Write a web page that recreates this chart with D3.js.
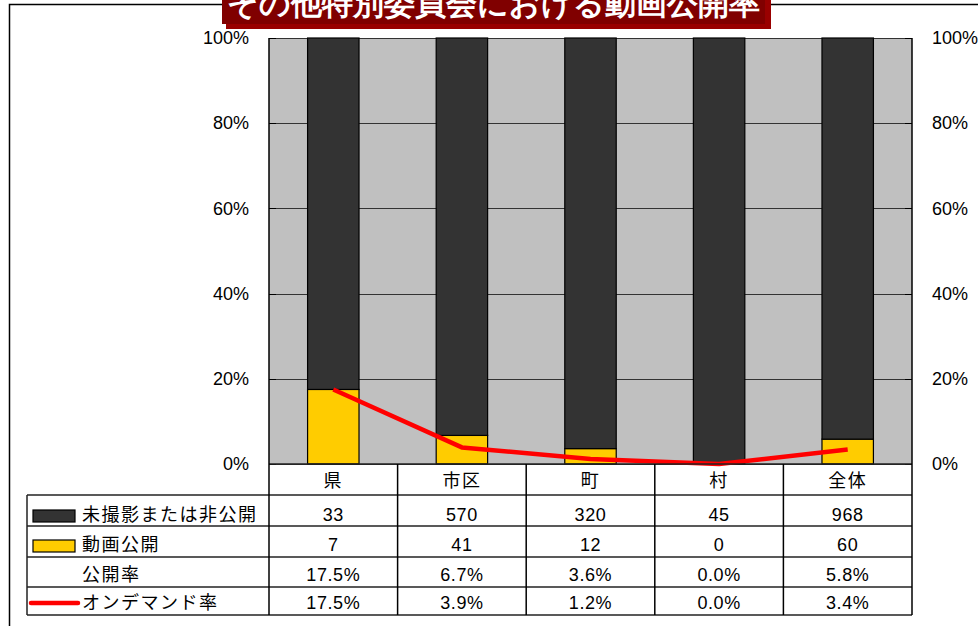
<!DOCTYPE html>
<html lang="ja">
<head>
<meta charset="utf-8">
<script src="https://cdn.jsdelivr.net/npm/d3@7"></script>
<style>
  body { margin: 0; background: #fff; }
  text { font-family: "Liberation Sans", Arial, sans-serif; fill: #000; }
  .jp { font-family: "Noto Sans CJK JP", sans-serif; letter-spacing: 1.5px; }
  .axis path, .axis line { shape-rendering: crispEdges; }
</style>
</head>
<body>
<div id="chart"></div>
<script>
// DATA
//=====================
var title = "その他特別委員会における動画公開率";
var categories = ["県", "市区", "町", "村", "全体"];
var notPublished = [33, 570, 320, 45, 968];   // 未撮影または非公開
var published = [7, 41, 12, 0, 60];           // 動画公開
var onDemandRate = [17.5, 3.9, 1.2, 0.0, 3.4]; // オンデマンド率 (%)
var rowLabels = ["未撮影または非公開", "動画公開", "公開率", "オンデマンド率"];
var yTicks = [0, 0.2, 0.4, 0.6, 0.8, 1];

var svgWidth = 978;
var svgHeight = 626;

var plot = { left: 269, right: 912, top: 38, bottom: 464 };
var rowEdges = [464, 495, 526, 557, 587, 615];
var rowBaselines = [487, 521, 551, 581, 609];
var tableLeft = 27;

// build rows for the stack
var rows = categories.map(function(c, i) {
    var total = notPublished[i] + published[i];
    return {
        cat: c,
        hidden: notPublished[i],
        shown: published[i],
        shownShare: total ? published[i] / total : 0,
        onDemand: onDemandRate[i] / 100
    };
});

/// APPEND SVG
//=====================
var svg = d3.select("#chart")
    .append("svg")
    .attr("width", svgWidth)
    .attr("height", svgHeight);

/// SCALES
//=====================
var xBar = d3.scaleBand()
    .domain(categories)
    .range([plot.left, plot.right])
    .paddingInner(0.6)
    .paddingOuter(0.3);

var xCol = d3.scaleBand()
    .domain(categories)
    .range([plot.left, plot.right]);

var yScale = d3.scaleLinear()
    .domain([0, 1])
    .range([plot.bottom, plot.top]);

// outer frame
svg.append("path")
    .attr("d", "M9.5," + (svgHeight + 5) + "V4.5H" + (svgWidth + 5))
    .attr("fill", "none")
    .attr("stroke", "#000")
    .attr("stroke-width", 1.5);

// plot background
svg.append("rect")
    .attr("x", plot.left)
    .attr("y", plot.top)
    .attr("width", plot.right - plot.left)
    .attr("height", plot.bottom - plot.top)
    .attr("fill", "#c0c0c0");

// gridlines
var grid = svg.append("g")
    .attr("class", "axis")
    .attr("transform", "translate(" + plot.left + ",0)")
    .call(d3.axisLeft(yScale).tickValues(yTicks).tickSize(-(plot.right - plot.left)).tickFormat(""));
grid.select(".domain").remove();
grid.selectAll("line").attr("stroke", "#333");

/// STACKED BARS
//=====================
var stack = d3.stack()
    .keys(["shownShare", "hiddenShare"])
    .value(function(d, key) { return key === "shownShare" ? d.shownShare : 1 - d.shownShare; });

var series = stack(rows);
var colors = { shownShare: "#ffcc00", hiddenShare: "#333333" };

svg.selectAll("g.series")
    .data(series)
    .enter()
    .append("g")
    .attr("class", "series")
    .attr("fill", function(s) { return colors[s.key]; })
    .selectAll("rect")
    .data(function(s) { return s.filter(function(p) { return p[1] - p[0] > 0; }); })
    .enter()
    .append("rect")
    .attr("x", function(p) { return xBar(p.data.cat); })
    .attr("y", function(p) { return yScale(p[1]); })
    .attr("width", xBar.bandwidth())
    .attr("height", function(p) { return yScale(p[0]) - yScale(p[1]); })
    .attr("stroke", "#000")
    .attr("stroke-width", 1.2);

/// AXES
//=====================
var yLeft = svg.append("g")
    .attr("transform", "translate(" + plot.left + ",0)")
    .call(d3.axisLeft(yScale).tickValues(yTicks).tickSize(0).tickPadding(20).tickFormat(d3.format(".0%")));
yLeft.select(".domain").remove();
yLeft.selectAll("text").attr("font-size", 18).attr("font-family", "Liberation Sans, Arial, sans-serif");

var yRight = svg.append("g")
    .attr("transform", "translate(" + plot.right + ",0)")
    .call(d3.axisRight(yScale).tickValues(yTicks).tickSize(0).tickPadding(20).tickFormat(d3.format(".0%")));
yRight.select(".domain").remove();
yRight.selectAll("text").attr("font-size", 18).attr("font-family", "Liberation Sans, Arial, sans-serif");

// small inside ticks
var tickLeft = svg.append("g")
    .attr("class", "axis")
    .attr("transform", "translate(" + plot.left + ",0)")
    .call(d3.axisRight(yScale).tickValues(yTicks).tickSize(7).tickFormat(""));
tickLeft.select(".domain").remove();
var tickRight = svg.append("g")
    .attr("class", "axis")
    .attr("transform", "translate(" + plot.right + ",0)")
    .call(d3.axisLeft(yScale).tickValues(yTicks).tickSize(7).tickFormat(""));
tickRight.select(".domain").remove();

/// ON-DEMAND LINE
//=====================
var line = d3.line()
    .x(function(d) { return xBar(d.cat) + xBar.bandwidth() / 2; })
    .y(function(d) { return yScale(d.onDemand); });

svg.append("path")
    .datum(rows)
    .attr("d", line)
    .attr("fill", "none")
    .attr("stroke", "#ff0000")
    .attr("stroke-width", 4.5)
    .attr("stroke-linejoin", "round");

/// DATA TABLE
//=====================
var table = svg.append("g").attr("class", "table");
var lineColor = "#222";

// horizontal lines
table.selectAll("line.h")
    .data(rowEdges)
    .enter()
    .append("line")
    .attr("class", "h")
    .attr("x1", function(d, i) { return i === 0 ? plot.left : tableLeft; })
    .attr("x2", plot.right)
    .attr("y1", function(d) { return d; })
    .attr("y2", function(d) { return d; })
    .attr("stroke", lineColor)
    .attr("stroke-width", 1.5);

// vertical lines: plot edges + column edges
var colEdges = categories.map(function(c) { return xCol(c); }).concat([plot.right]);
table.selectAll("line.v")
    .data(colEdges)
    .enter()
    .append("line")
    .attr("class", "v")
    .attr("x1", function(d) { return d; })
    .attr("x2", function(d) { return d; })
    .attr("y1", function(d, i) { return (i === 0 || i === colEdges.length - 1) ? plot.top : rowEdges[0]; })
    .attr("y2", rowEdges[rowEdges.length - 1])
    .attr("stroke", "#000")
    .attr("stroke-width", 1.5);

table.append("line")
    .attr("x1", tableLeft).attr("x2", tableLeft)
    .attr("y1", rowEdges[1]).attr("y2", rowEdges[rowEdges.length - 1])
    .attr("stroke", lineColor)
    .attr("stroke-width", 1.5);

// category header
table.selectAll("text.cat")
    .data(categories)
    .enter()
    .append("text")
    .attr("class", "cat jp")
    .attr("x", function(d) { return xCol(d) + xCol.bandwidth() / 2; })
    .attr("y", rowBaselines[0])
    .attr("text-anchor", "middle")
    .attr("font-size", 18)
    .text(function(d) { return d; });

// cell values
var pct = d3.format(".1%");
var cellRows = [
    rows.map(function(d) { return d.hidden; }),
    rows.map(function(d) { return d.shown; }),
    rows.map(function(d) { return pct(d.shownShare); }),
    rows.map(function(d) { return pct(d.onDemand); })
];

cellRows.forEach(function(vals, r) {
    table.selectAll("text.r" + r)
        .data(vals)
        .enter()
        .append("text")
        .attr("class", "r" + r)
        .attr("x", function(d, i) { return xCol(categories[i]) + xCol.bandwidth() / 2; })
        .attr("y", rowBaselines[r + 1])
        .attr("text-anchor", "middle")
        .attr("font-size", 18)
        .attr("letter-spacing", 0.6)
        .text(function(d) { return d; });
});

// row labels
table.selectAll("text.label")
    .data(rowLabels)
    .enter()
    .append("text")
    .attr("class", "label jp")
    .attr("x", 82)
    .attr("y", function(d, i) { return rowBaselines[i + 1]; })
    .attr("font-size", 18)
    .text(function(d) { return d; });

// legend keys
table.append("rect")
    .attr("x", 33).attr("y", 510).attr("width", 42).attr("height", 12)
    .attr("fill", colors.hiddenShare).attr("stroke", "#000").attr("stroke-width", 1.2);
table.append("rect")
    .attr("x", 33).attr("y", 540).attr("width", 42).attr("height", 12)
    .attr("fill", colors.shownShare).attr("stroke", "#000").attr("stroke-width", 1.2);
table.append("line")
    .attr("x1", 31).attr("x2", 78).attr("y1", 603).attr("y2", 603)
    .attr("stroke", "#ff0000").attr("stroke-width", 4.5).attr("stroke-linecap", "round");

/// TITLE
//=====================
svg.append("rect")
    .attr("x", 226).attr("y", -10).attr("width", 545).attr("height", 39)
    .attr("fill", "#990000");
svg.append("rect")
    .attr("x", 222).attr("y", -10).attr("width", 543).attr("height", 34)
    .attr("fill", "#800000");
svg.append("text")
    .attr("x", 493.5)
    .attr("y", 14)
    .attr("text-anchor", "middle")
    .attr("font-family", "Noto Sans CJK JP, sans-serif")
    .attr("font-weight", "700")
    .attr("font-size", 31)
    .style("fill", "#fff")
    .text(title);
</script>
</body>
</html>
